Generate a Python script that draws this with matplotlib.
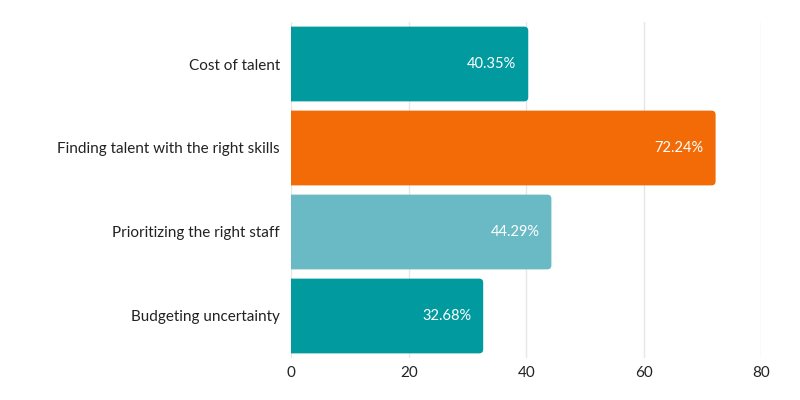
import matplotlib
matplotlib.use('Agg')
import matplotlib.pyplot as plt
from matplotlib.patches import FancyBboxPatch

# data
categories = ['Cost of talent', 'Finding talent with the right skills',
              'Prioritizing the right staff', 'Budgeting uncertainty']
values = [40.35, 72.24, 44.29, 32.68]
colors = ['#019b9f', '#f26b07', '#6abac5', '#019b9f']

plt.rcParams['font.family'] = ['Lato', 'DejaVu Sans']

fig = plt.figure(figsize=(8, 4), dpi=100)
ax = fig.add_axes([0.364, 0.105, 0.5875, 0.84])

ys = list(range(len(categories)))
h = 0.89
for y, v, c in zip(ys, values, colors):
    # start left of 0 so left corners get clipped square
    p = FancyBboxPatch((-3, y - h / 2), v + 3, h,
                       boxstyle='round,pad=0,rounding_size=0.7',
                       mutation_aspect=0.07, fc=c, ec='none', zorder=3)
    ax.add_patch(p)
    ax.text(v - 2, y, f'{v:.2f}%', color='white', ha='right', va='center',
            fontsize=10.5, zorder=4)

ax.set_xlim(0, 80)
ax.set_ylim(len(categories) - 0.5, -0.5)
ax.set_yticks(ys)
ax.set_yticklabels(categories, fontsize=11, color='#222222')
ax.set_xticks([0, 20, 40, 60, 80])
ax.tick_params(axis='both', length=0, pad=8)
ax.tick_params(axis='x', labelsize=11, labelcolor='#222222', pad=6)
ax.grid(axis='x', color='#e6e6e6', linewidth=1, zorder=0)
for s in ax.spines.values():
    s.set_visible(False)

fig.savefig('out.png', dpi=100)
